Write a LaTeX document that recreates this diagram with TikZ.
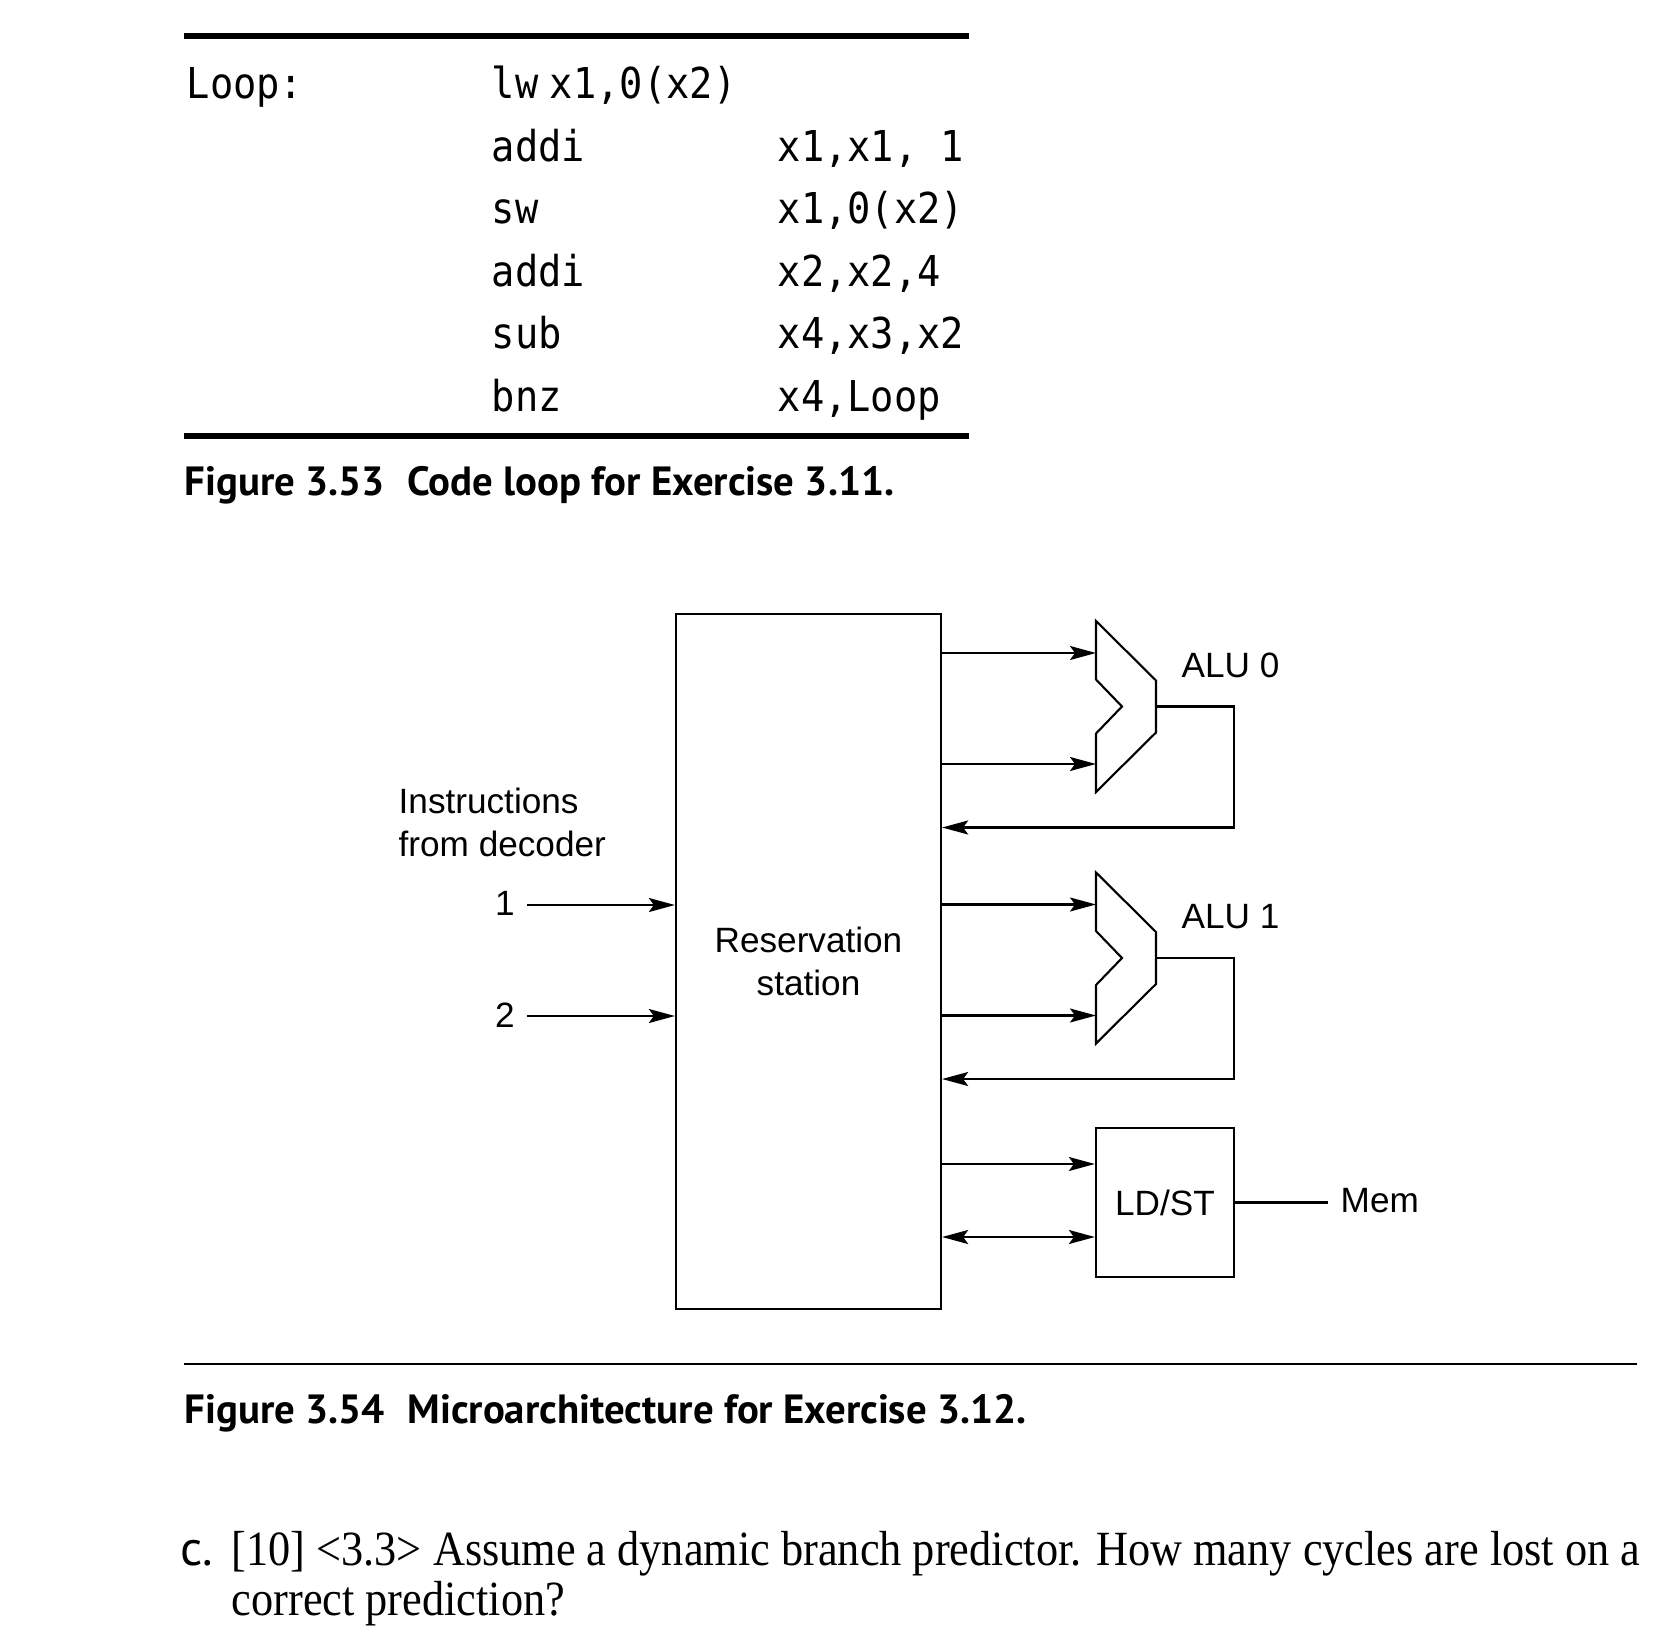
\documentclass[tikz,border=0pt]{standalone}
\usepackage{fontspec}
\setmainfont{Liberation Sans}
\newfontfamily\codefont[FakeStretch=0.91]{DejaVu Sans Mono}
\newfontfamily\capfont{PT Sans}
\newfontfamily\qfont[FakeStretch=0.9]{Liberation Serif}
\usetikzlibrary{arrows.meta}
\begin{document}
\begin{tikzpicture}[x=0.01cm,y=-0.01cm,
  code/.style={anchor=base west,inner sep=0,font=\codefont\fontsize{12.1}{14}\selectfont},
  figcap/.style={anchor=base west,inner sep=0,font=\capfont\bfseries\fontsize{11.6}{13}\selectfont},
  lbl/.style={inner sep=0,font=\fontsize{10}{12}\selectfont},
  blk/.style={draw,line width=0.6pt,inner sep=0,font=\fontsize{10}{12}\selectfont,align=center},
  ln/.style={line width=0.6pt},
  arr/.style={-{Stealth[length=2.6mm,width=1.4mm,inset=0.5mm]},line width=0.6pt},
  darr/.style={{Stealth[length=2.6mm,width=1.4mm,inset=0.5mm]}-{Stealth[length=2.6mm,width=1.4mm,inset=0.5mm]},line width=0.6pt},
  qtext/.style={anchor=base west,inner sep=0,font=\qfont\fontsize{14}{16}\selectfont}]
\path[use as bounding box] (0,0) rectangle (1660,1630);

% ---- Figure 3.53 ----
\draw[line width=1.9pt] (184,36) -- (969,36);
\node[code] (loop) at (186,98.5) {Loop:};
\node[code] (op1) at (491,98.5) {lw\hspace{3.3pt}x1,0(x2)};
\node[code] (op2) at (491,161) {addi};
\node[code] (ar2) at (777,161) {x1,x1, 1};
\node[code] (op3) at (491,223.5) {sw};
\node[code] (ar3) at (777,223.5) {x1,0(x2)};
\node[code] (op4) at (491,286) {addi};
\node[code] (ar4) at (777,286) {x2,x2,4};
\node[code] (op5) at (491,348.5) {sub};
\node[code] (ar5) at (777,348.5) {x4,x3,x2};
\node[code] (op6) at (491,411) {bnz};
\node[code] (ar6) at (777,411) {x4,Loop};
\draw[line width=1.9pt] (184,436) -- (969,436);
\node[figcap] (cap1) at (184,495) {Figure 3.53\hspace{0.55em}Code loop for Exercise 3.11.};

% ---- Figure 3.54 ----
\node[blk,minimum width=2.65cm,minimum height=6.95cm] (rs) at (808.5,961.5) {Reservation\\station};

\node[lbl,anchor=base west] (instr1) at (398,813) {Instructions};
\node[lbl,anchor=base west] (instr2) at (398,856) {from decoder};
\node[lbl,anchor=base] (in1) at (505,915) {1};
\node[lbl,anchor=base] (in2) at (505,1027) {2};
\coordinate (s1) at (527,905);
\coordinate (s2) at (527,1016);
\draw[arr] (s1) -- (s1 -| rs.west);
\draw[arr] (s2) -- (s2 -| rs.west);

\foreach \n/\cy in {0/706.5,1/958}{
  \begin{scope}[shift={(0,\cy)}]
    \draw[ln,line join=miter] (1096,-85.5) -- (1156,-26) -- (1156,26) -- (1096,85.5)
      -- (1096,27) -- (1122,0) -- (1096,-27) -- cycle;
    \coordinate (alu\n-in1) at (1096,-53.5);
    \coordinate (alu\n-in2) at (1096,57.5);
    \coordinate (alu\n-out) at (1156,0);
    \coordinate (alu\n-fb) at (1234,121);
    \node[lbl,anchor=west] (alu\n-lbl) at (1181,-41.5) {ALU \n};
  \end{scope}
  \draw[arr] (rs.east |- alu\n-in1) -- (alu\n-in1);
  \draw[arr] (rs.east |- alu\n-in2) -- (alu\n-in2);
  \draw[arr] (alu\n-out) -| (alu\n-fb) -- (rs.east |- alu\n-fb);
}

\node[blk,minimum width=1.38cm,minimum height=1.49cm] (ldst) at (1165,1202.5) {LD/ST};
\coordinate (ls1) at (ldst.west |- 0,1164);
\coordinate (ls2) at (ldst.west |- 0,1237);
\draw[arr] (rs.east |- ls1) -- (ls1);
\draw[darr] (rs.east |- ls2) -- (ls2);
\node[lbl,anchor=west] (mem) at (1340,1201) {Mem};
\coordinate (memend) at (1328,1202.5);
\draw[ln] (ldst.east) -- (memend);

\draw[line width=0.6pt] (184,1364) -- (1637,1364);
\node[figcap] (cap2) at (184,1423) {Figure 3.54\hspace{0.55em}Microarchitecture for Exercise 3.12.};

% ---- question ----
\node[anchor=base west,inner sep=0,font=\capfont\fontsize{14}{16}\selectfont] (qc) at (180,1565) {c.};
\node[qtext] (q1) at (231,1565) {[10] <3.3> Assume a dynamic branch predictor. How many cycles are lost on a};
\node[qtext] (q2) at (231,1615) {correct prediction?};
\end{tikzpicture}
\end{document}
